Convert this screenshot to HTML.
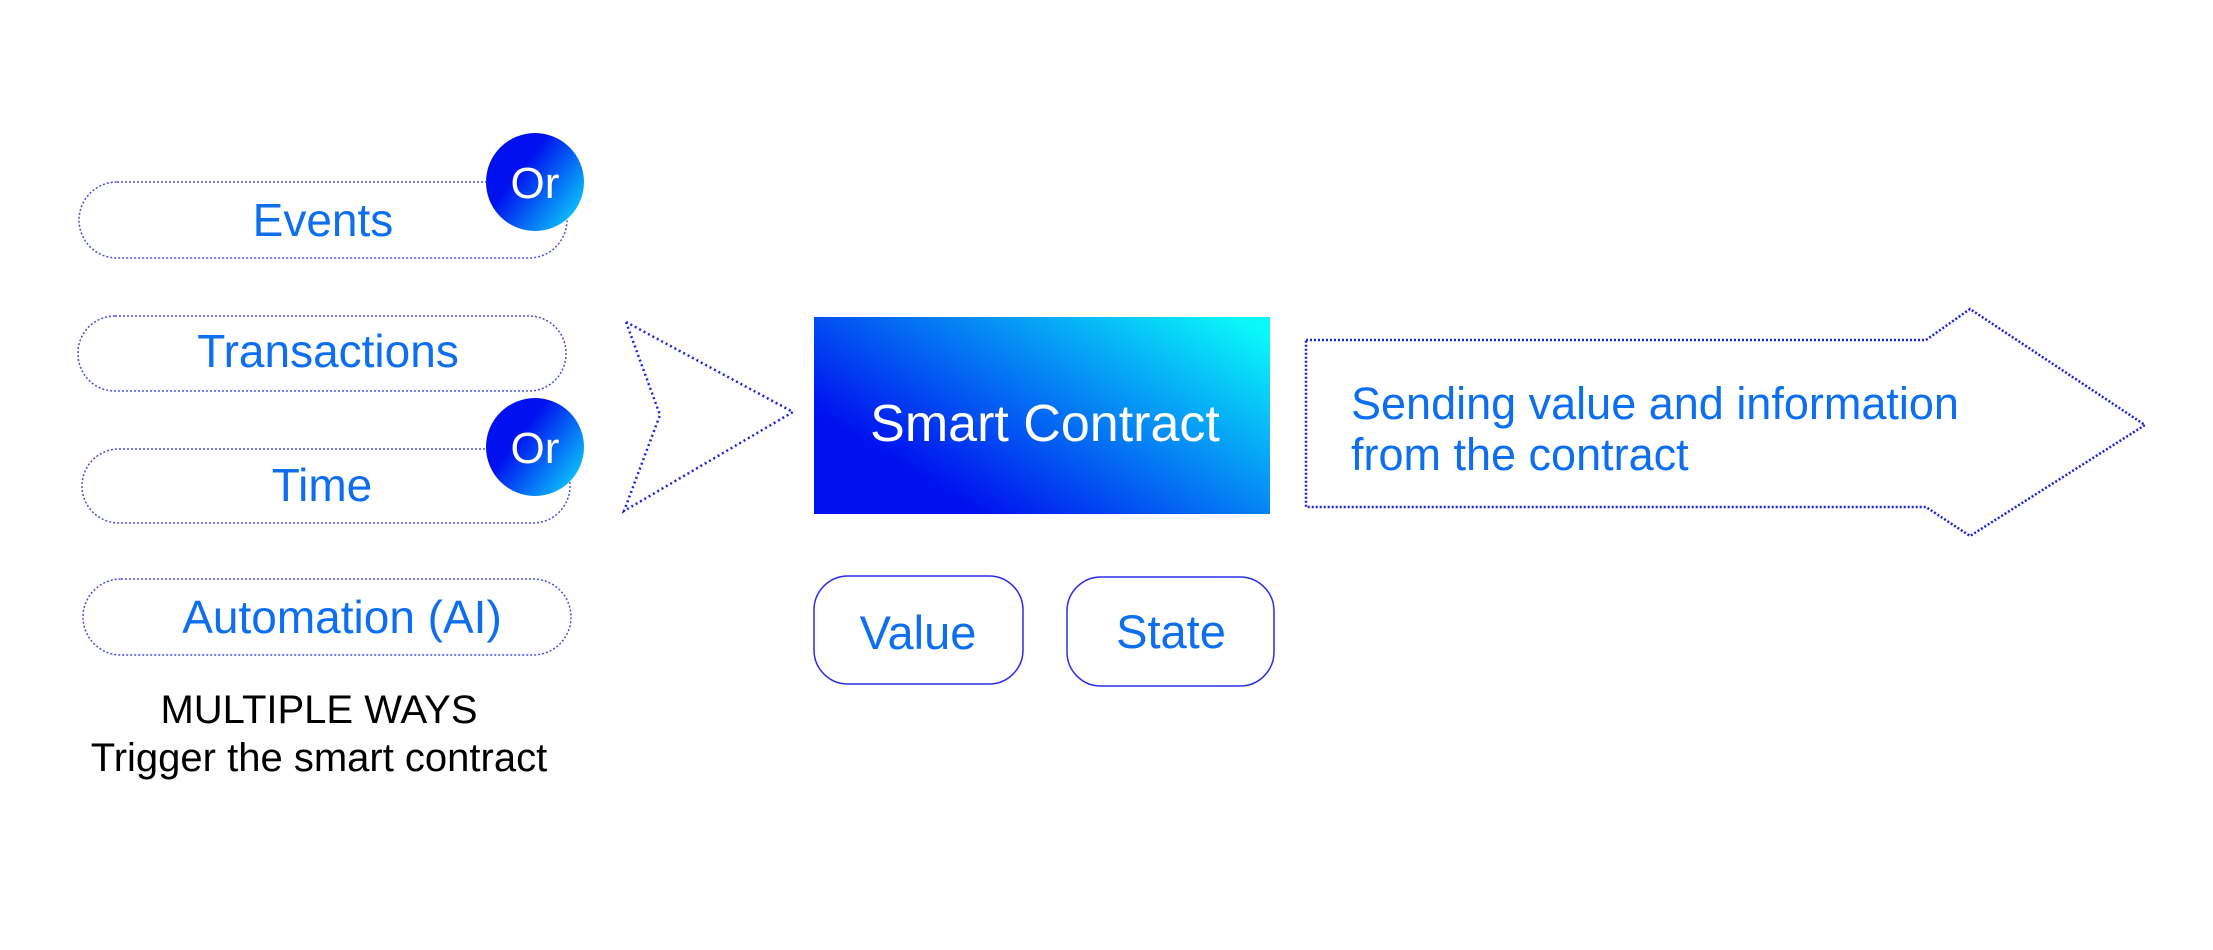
<!DOCTYPE html>
<html><head><meta charset="utf-8"><style>
body{margin:0;width:2213px;height:945px;background:#fff;overflow:hidden;font-family:"Liberation Sans",sans-serif}
</style></head><body>
<svg width="2213" height="945" viewBox="0 0 2213 945" xmlns="http://www.w3.org/2000/svg" font-family="Liberation Sans, sans-serif">
<defs>
<linearGradient id="g1" x1="0" y1="0.8" x2="1" y2="0.1">
<stop offset="0.15" stop-color="#0010ef"/><stop offset="1" stop-color="#0af8fa"/></linearGradient>
<linearGradient id="g2" x1="0.1" y1="0.2" x2="0.9" y2="0.8">
<stop offset="0.3" stop-color="#0010ef"/><stop offset="1" stop-color="#0ab8fa"/></linearGradient>
</defs>
<g fill="none" stroke="#4a4ee8" stroke-width="1.5" stroke-dasharray="2 2">
<rect x="79" y="182" width="488" height="76" rx="38"/>
<rect x="78" y="316" width="488" height="75" rx="37"/>
<rect x="82" y="449" width="488" height="74" rx="37"/>
<rect x="83" y="579" width="488" height="76" rx="38"/>
</g>
<g fill="#0d6ef0" font-size="46" text-anchor="middle">
<text x="323" y="236">Events</text>
<text x="328" y="367">Transactions</text>
<text x="322" y="501">Time</text>
<text x="342" y="633">Automation (AI)</text>
</g>
<circle cx="535" cy="182" r="49" fill="url(#g2)"/>
<circle cx="535" cy="447" r="49" fill="url(#g2)"/>
<g fill="#fff" font-size="44" text-anchor="middle">
<text x="535" y="198">Or</text><text x="535" y="463">Or</text>
</g>
<g fill="#000" font-size="40" text-anchor="middle">
<text x="319" y="723">MULTIPLE WAYS</text>
<text x="319" y="771">Trigger the smart contract</text>
</g>
<polygon points="626,322 793,412 624,511 660,415" fill="none" stroke="#1a22e0" stroke-width="2.5" stroke-dasharray="2 3"/>
<rect x="814" y="317" width="456" height="197" fill="url(#g1)"/>
<text x="1045" y="441" fill="#fff" font-size="52" text-anchor="middle">Smart Contract</text>
<rect x="814" y="576" width="209" height="108" rx="34" fill="none" stroke="#2a2ee8" stroke-width="1.5"/>
<rect x="1067" y="577" width="207" height="109" rx="34" fill="none" stroke="#2a2ee8" stroke-width="1.5"/>
<g fill="#0d6ef0" font-size="47" text-anchor="middle">
<text x="918" y="649">Value</text><text x="1171" y="648">State</text>
</g>
<polygon points="1306,340 1926,340 1970,309 2145,425 1970,536 1926,507 1306,507" fill="none" stroke="#1a22e0" stroke-width="2.5" stroke-dasharray="2 2"/>
<g fill="#0d6ef0" font-size="45">
<text x="1351" y="419">Sending value and information</text>
<text x="1351" y="470">from the contract</text>
</g>
</svg>
</body></html>
